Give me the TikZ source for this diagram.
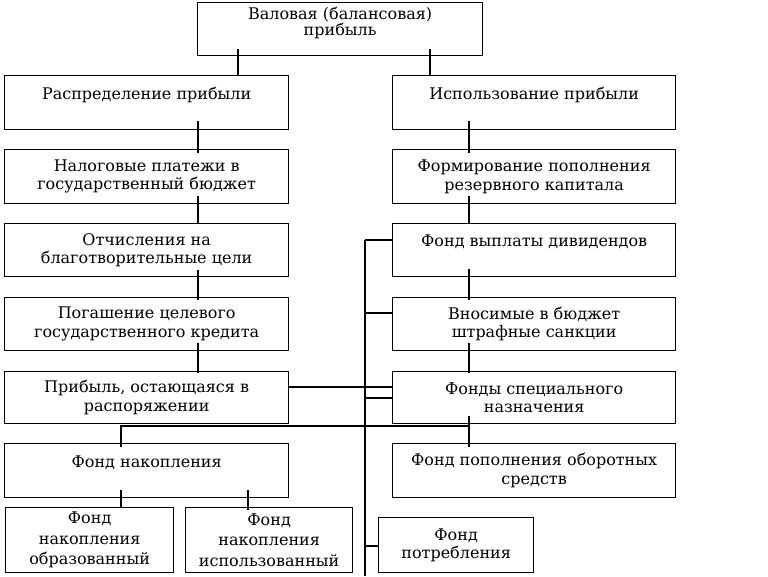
\documentclass[tikz,border=0pt]{standalone}
\usepackage{fontspec}
\setmainfont{DejaVu Serif}
\begin{document}
\begin{tikzpicture}[x=1pt,y=-1pt,
  box/.style={draw, line width=1.3pt, inner sep=0pt, anchor=north west, align=center,
    font=\fontsize{16}{18.5}\selectfont},
  lbox/.style={box, minimum width=284, minimum height=54},
  rbox/.style={box, minimum width=283, minimum height=54},
  conn/.style={line width=1.3pt}]
\useasboundingbox (0,0) rectangle (768,576);
\fill[white] (0,0) rectangle (768,576);
% top
\node[box, minimum width=285, minimum height=53, font=\fontsize{16}{16.5}\selectfont] (top) at (197,2) {Валовая (балансовая)\\прибыль\\[-1pt]\mbox{}};
% left column
\node[lbox] (rasp) at (4,75) {Распределение прибыли\\\mbox{}};
\node[lbox] (nalog) at (4,149) {Налоговые платежи в\\государственный бюджет};
\node[lbox, minimum height=53] (otch) at (4,223) {Отчисления на\\благотворительные цели};
\node[lbox, minimum height=53] (pogash) at (4,297) {Погашение целевого\\государственного кредита};
\node[lbox, minimum height=52] (prib) at (4,371) {Прибыль, остающаяся в\\распоряжении};
\node[lbox] (fnak) at (4,443) {Фонд накопления\\\mbox{}};
\node[box, minimum width=168, minimum height=65, font=\fontsize{16}{20.5}\selectfont] (obraz) at (5,507) {Фонд\\накопления\\образованный};
\node[box, minimum width=167, minimum height=65, font=\fontsize{16}{20.5}\selectfont] (ispolz) at (185,507) {Фонд\\накопления\\использованный};
% right column
\node[rbox] (isp) at (392,75) {Использование прибыли\\\mbox{}};
\node[rbox] (form) at (392,149) {Формирование пополнения\\резервного капитала};
\node[rbox, minimum height=53] (fvd) at (392,223) {Фонд выплаты дивидендов\\\mbox{}};
\node[rbox, minimum height=53] (vnos) at (392,297) {Вносимые в бюджет\\штрафные санкции};
\node[rbox, minimum height=52] (fsn) at (392,371) {Фонды специального\\назначения};
\node[rbox] (fpos) at (392,443) {Фонд пополнения оборотных\\средств};
\node[box, minimum width=155, minimum height=55] (fpotr) at (378,517) {Фонд\\потребления};
% helper coordinates
\coordinate (cL) at (198,0);
\coordinate (cR) at (469,0);
\coordinate (cT1) at (238,0);
\coordinate (cT2) at (430,0);
\coordinate (cA) at (121,0);
\coordinate (cB) at (248,0);
\coordinate (busT) at (365,240);
\coordinate (busB) at (365,576);
\coordinate (jn) at (469,426);
% connectors from top
\draw[conn] ([yshift=7pt]top.south -| cT1) -- (rasp.north -| cT1);
\draw[conn] ([yshift=7pt]top.south -| cT2) -- (isp.north -| cT2);
% left chain
\draw[conn] ([yshift=9pt]rasp.south -| cL) -- ([yshift=-4pt]nalog.north -| cL);
\draw[conn] ([yshift=8pt]nalog.south -| cL) -- (otch.north -| cL);
\draw[conn] ([yshift=7pt]otch.south -| cL) -- ([yshift=-3pt]pogash.north -| cL);
\draw[conn] ([yshift=8pt]pogash.south -| cL) -- ([yshift=-2pt]prib.north -| cL);
% right chain
\draw[conn] ([yshift=9pt]isp.south -| cR) -- ([yshift=-4pt]form.north -| cR);
\draw[conn] ([yshift=8pt]form.south -| cR) -- (fvd.north -| cR);
\draw[conn] ([yshift=8pt]fvd.south -| cR) -- ([yshift=-3pt]vnos.north -| cR);
\draw[conn] ([yshift=8pt]vnos.south -| cR) -- ([yshift=-2pt]fsn.north -| cR);
\draw[conn] ([yshift=8pt]fsn.south -| cR) -- ([yshift=-4pt]fpos.north -| cR);
% bus
\draw[conn] (busT) -- (busB);
\draw[conn] (busT) -- (fvd.west |- busT);
\draw[conn] (busT |- 0,313) -- (vnos.west |- 0,313);
\draw[conn] (prib.east |- 0,387) -- (fsn.west |- 0,387);
\draw[conn] (busT |- 0,398) -- (fsn.west |- 0,398);
\draw[conn] (busT |- 0,546) -- (fpotr.west |- 0,546);
% accumulation fund link
\draw[conn] ([yshift=-4pt]fnak.north -| cA) -- (jn -| cA) -- (jn);
\draw[conn] ([yshift=8pt]fnak.south -| cA) -- (obraz.north -| cA);
\draw[conn] ([yshift=8pt]fnak.south -| cB) -- ([yshift=-3pt]ispolz.north -| cB);
\end{tikzpicture}
\end{document}
